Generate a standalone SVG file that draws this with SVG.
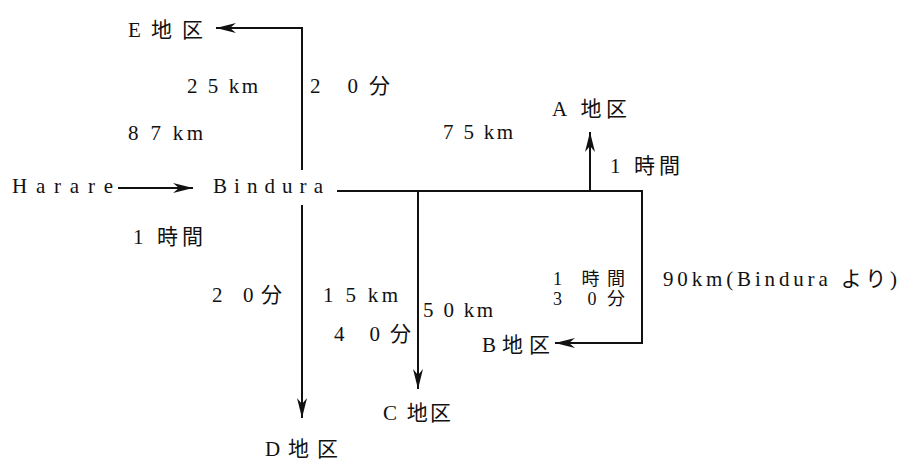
<svg xmlns="http://www.w3.org/2000/svg" width="901" height="461" viewBox="0 0 901 461">
<style>
text{font-family:"Liberation Serif","Noto Sans CJK JP",serif;font-size:21px;fill:#111}
text.sm{font-size:18px}
.ln{fill:none;stroke:#111;stroke-width:2}
</style>
<defs>
<marker id="ah" viewBox="-20 -6 21 12" refX="0" refY="0" markerWidth="21" markerHeight="12" markerUnits="userSpaceOnUse" orient="auto">
<path d="M-20,-5 L0,0 L-20,5 L-14,0 Z" fill="#111"/>
</marker>
</defs>
<rect width="901" height="461" fill="#fff"/>
<g id="connectors">
<path class="ln" d="M118,188 L193,188" marker-end="url(#ah)"/>
<path class="ln" d="M302,170 L302,28 L216,28" marker-end="url(#ah)"/>
<path class="ln" d="M302,205 L302,418" marker-end="url(#ah)"/>
<path class="ln" d="M337,191 L642,191 L642,343 L555,343" marker-end="url(#ah)"/>
<path class="ln" d="M418,191 L418,389" marker-end="url(#ah)"/>
<path class="ln" d="M590,191 L590,132" marker-end="url(#ah)"/>
</g>
<g id="harare"><text x="12" y="193" textLength="101" lengthAdjust="spacing">Harare</text></g>
<g id="bindura"><text x="213" y="193" textLength="110" lengthAdjust="spacing">Bindura</text></g>
<g id="e"><text x="128" y="37" textLength="75" lengthAdjust="spacing">E地区</text></g>
<g id="a"><text x="552" y="116" textLength="75" lengthAdjust="spacing">A 地区</text></g>
<g id="b"><text x="482" y="352" textLength="68" lengthAdjust="spacing">B地区</text></g>
<g id="c"><text x="383" y="420" textLength="68" lengthAdjust="spacing">C 地区</text></g>
<g id="d"><text x="265" y="456" textLength="73" lengthAdjust="spacing">D地区</text></g>
<g id="labels">
<text x="187" y="93" textLength="71" lengthAdjust="spacing">2 5 km</text>
<text x="310" y="93" textLength="80" lengthAdjust="spacing">2 0分</text>
<text x="128" y="140" textLength="75" lengthAdjust="spacing">8 7 km</text>
<text x="443" y="139" textLength="70" lengthAdjust="spacing">7 5 km</text>
<text x="610" y="173" textLength="70" lengthAdjust="spacing">1 時間</text>
<text x="133" y="244" textLength="70" lengthAdjust="spacing">1 時間</text>
<text class="sm" x="553" y="285" textLength="72" lengthAdjust="spacing">1 時間</text>
<text class="sm" x="553" y="305" textLength="72" lengthAdjust="spacing">3 0分</text>
<text x="663" y="286" textLength="234" lengthAdjust="spacing">90km(Bindura より)</text>
<text x="212" y="302" textLength="70" lengthAdjust="spacing">2 0分</text>
<text x="323" y="302" textLength="75" lengthAdjust="spacing">1 5 km</text>
<text x="423" y="317" textLength="70" lengthAdjust="spacing">5 0 km</text>
<text x="334" y="341" textLength="77" lengthAdjust="spacing">4 0分</text>
</g>
</svg>
